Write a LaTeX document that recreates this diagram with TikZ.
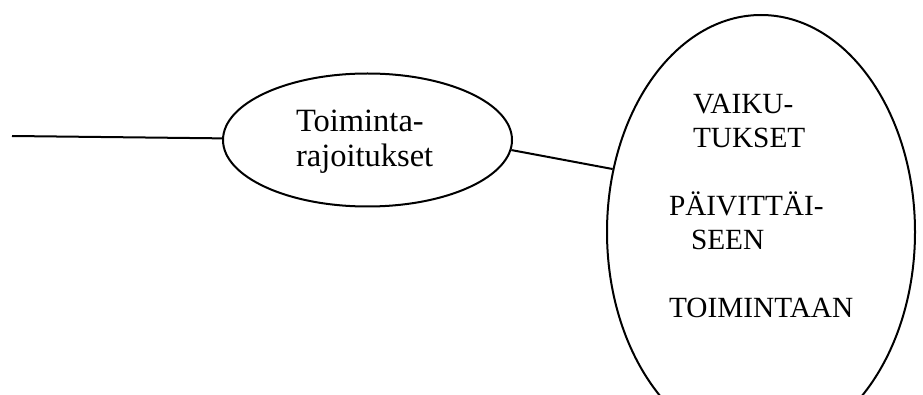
\documentclass[tikz,border=0pt]{standalone}
\usepackage{fontspec}
\setmainfont{Liberation Serif}
\usetikzlibrary{shapes.geometric}

\begin{document}
\begin{tikzpicture}[
  x=1pt, y=1pt,
  line width=2pt,
  bubble/.style={draw, ellipse, inner sep=0pt},
  smalltxt/.style={font=\fontsize{32.5}{35}\selectfont, align=left, inner sep=0pt},
  bigtxt/.style={font=\fontsize{29.3}{34}\selectfont, align=left, inner sep=0pt},
]
  % --- page frame ---
  \clip (0,0) rectangle (923,394);

  % --- ellipses ---
  \node[bubble, minimum width=289pt, minimum height=133pt] (limits) at (367.5,254) {};
  \node[bubble, minimum width=308pt, minimum height=434pt] (effects) at (761,162) {};

  % --- texts (base = last line) ---
  \node[smalltxt, anchor=base west] (limitstxt) at (295,227) {Toiminta-\\rajoitukset};
  \node[bigtxt, anchor=base west] (effectstxt) at (668,77)
    {\hspace*{24pt}VAIKU-\\\hspace*{24pt}TUKSET\\[34pt]PÄIVITTÄI-\\\hspace*{22pt}SEEN\\[34pt]TOIMINTAAN};

  % --- connectors ---
  \coordinate (lend) at (12,258);
  \draw (lend) -- (limits);
  \draw (limits.-4) -- (effects.157);
\end{tikzpicture}
\end{document}
